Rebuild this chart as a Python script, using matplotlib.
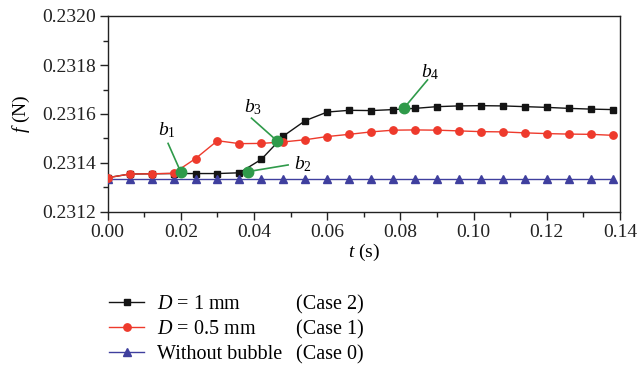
import numpy as np
import matplotlib
matplotlib.use("Agg")
import matplotlib.pyplot as plt
from matplotlib.ticker import MultipleLocator, FormatStrFormatter

plt.rcParams['font.family'] = ['Liberation Serif', 'DejaVu Serif']
plt.rcParams['mathtext.fontset'] = 'custom'
plt.rcParams['mathtext.it'] = 'Liberation Serif:italic'
plt.rcParams['mathtext.rm'] = 'Liberation Serif'

# time samples (s)
t = [0.000, 0.006, 0.012, 0.018, 0.024, 0.030, 0.036, 0.042, 0.048, 0.054,
     0.060, 0.066, 0.072, 0.078, 0.084, 0.090, 0.096, 0.102, 0.108, 0.114,
     0.120, 0.126, 0.132, 0.138]

# lift force f (N)
f_case2 = [0.231340, 0.231355, 0.231356, 0.231357, 0.231357, 0.231357, 0.231360,
           0.231415, 0.231510, 0.231573, 0.231608, 0.231615, 0.231614, 0.231618,
           0.231623, 0.231630, 0.231633, 0.231634, 0.231633, 0.231630, 0.231627,
           0.231623, 0.231620, 0.231618]
f_case1 = [0.231340, 0.231355, 0.231356, 0.231358, 0.231418, 0.231491, 0.231479,
           0.231480, 0.231486, 0.231495, 0.231508, 0.231517, 0.231527, 0.231534,
           0.231535, 0.231534, 0.231531, 0.231528, 0.231527, 0.231523, 0.231520,
           0.231518, 0.231517, 0.231513]
f_case0 = [0.231333] * len(t)

labels = ["$D$ = 1 mm", "$D$ = 0.5 mm", "Without bubble"]
cases = ["(Case 2)", "(Case 1)", "(Case 0)"]

# highlighted instants b1..b4 with their labels and leader-line ends
b_names = ["$b_1$", "$b_2$", "$b_3$", "$b_4$"]
b_t = [0.0200, 0.0384, 0.0463, 0.0809]
b_f = [0.231362, 0.231365, 0.231490, 0.231623]
b_label_t = [0.0163, 0.0533, 0.0396, 0.0880]
b_label_f = [0.231535, 0.231396, 0.231627, 0.231771]
b_lead_t = [0.0165, 0.0493, 0.0393, 0.0874]
b_lead_f = [0.231480, 0.231392, 0.231583, 0.231739]

fig = plt.figure(figsize=(6.38, 3.68), dpi=100)
ax = fig.add_axes([107.7 / 638, 1 - 212 / 368, (620 - 107.7) / 638, (212 - 16) / 368])

black = '#141414'
red = '#ee3a2c'
blue = '#3f3f9e'
green = '#2f9a4a'

l2, = ax.plot(t, f_case2, color=black, lw=1.0, marker='s', ms=4.2, zorder=3)
l1, = ax.plot(t, f_case1, color=red, lw=1.0, marker='o', ms=5.3, zorder=4)
l0, = ax.plot(t, f_case0, color=blue, lw=1.0, marker='^', ms=5.5, zorder=3)

for name, xb, yb, xt, yt, xs, ys in zip(b_names, b_t, b_f, b_label_t, b_label_f, b_lead_t, b_lead_f):
    ax.plot([xs, xb], [ys, yb], color=green, lw=1.2, zorder=5)
    ax.plot(xb, yb, 'o', color=green, ms=7.5, zorder=6)
    ax.text(xt, yt, name, fontsize=14, ha='center', va='center', zorder=7)

ax.set_xlim(0, 0.14)
ax.set_ylim(0.2312, 0.2320)
ax.xaxis.set_major_locator(MultipleLocator(0.02))
ax.xaxis.set_minor_locator(MultipleLocator(0.01))
ax.yaxis.set_major_locator(MultipleLocator(0.0002))
ax.yaxis.set_minor_locator(MultipleLocator(0.0001))
ax.xaxis.set_major_formatter(FormatStrFormatter('%.2f'))
ax.yaxis.set_major_formatter(FormatStrFormatter('%.4f'))
ax.tick_params(which='both', direction='out', top=False, right=False, labelsize=14,
               width=1.0, colors='#222222', pad=3)
ax.tick_params(which='major', length=5.5)
ax.tick_params(which='minor', length=3.5)
for s in ax.spines.values():
    s.set_linewidth(1.0)
    s.set_color('#222222')

ax.set_xlabel("$t$ (s)", fontsize=14, labelpad=1)
ax.set_ylabel("$f$ (N)", fontsize=14, labelpad=7)

leg = fig.legend([l2, l1, l0], labels, loc='upper left', bbox_to_anchor=(101 / 638, 1 - 287 / 368),
                 frameon=False, fontsize=14.5, handlelength=1.75, handletextpad=0.65,
                 labelspacing=0.3, borderaxespad=0)

fig.canvas.draw()
inv = fig.transFigure.inverted()
for txt, c in zip(leg.get_texts(), cases):
    bb = txt.get_window_extent()
    xf, yf = inv.transform((296, bb.y0))
    fig.text(296 / 638, yf, c, fontsize=14.5, ha='left', va='bottom')

fig.savefig("out.png", dpi=100)
